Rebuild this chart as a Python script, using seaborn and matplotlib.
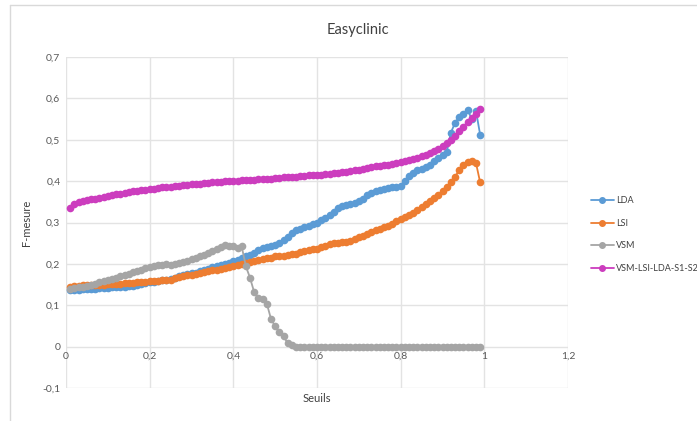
import numpy as np
import pandas as pd
import matplotlib
matplotlib.use("Agg")
import matplotlib.pyplot as plt
from matplotlib.lines import Line2D
import seaborn as sns

# seuils 0,01 .. 0,99
seuils = [round(0.01 * i, 2) for i in range(1, 100)]

lda = [0.138, 0.138, 0.138, 0.139, 0.139, 0.140, 0.140, 0.141, 0.141, 0.142,
       0.143, 0.143, 0.144, 0.145, 0.146, 0.147, 0.150, 0.152, 0.153, 0.155,
       0.156, 0.158, 0.160, 0.162, 0.163, 0.166, 0.170, 0.173, 0.175, 0.177,
       0.179, 0.182, 0.184, 0.188, 0.193, 0.196, 0.198, 0.200, 0.203, 0.206,
       0.210, 0.214, 0.218, 0.222, 0.227, 0.233, 0.238, 0.241, 0.243, 0.246,
       0.250, 0.258, 0.266, 0.275, 0.282, 0.285, 0.288, 0.292, 0.296, 0.300,
       0.306, 0.312, 0.318, 0.326, 0.334, 0.340, 0.342, 0.344, 0.348, 0.352,
       0.358, 0.366, 0.372, 0.376, 0.379, 0.382, 0.384, 0.385, 0.386, 0.388,
       0.400, 0.412, 0.420, 0.426, 0.430, 0.434, 0.438, 0.448, 0.456, 0.462,
       0.470, 0.517, 0.541, 0.555, 0.562, 0.572, 0.550, 0.570, 0.512]

lsi = [0.145, 0.146, 0.147, 0.148, 0.148, 0.149, 0.149, 0.150, 0.150, 0.151,
       0.151, 0.152, 0.152, 0.153, 0.153, 0.154, 0.155, 0.156, 0.157, 0.158,
       0.158, 0.159, 0.160, 0.161, 0.162, 0.165, 0.168, 0.170, 0.172, 0.174,
       0.176, 0.178, 0.180, 0.182, 0.184, 0.186, 0.188, 0.190, 0.193, 0.196,
       0.198, 0.200, 0.203, 0.205, 0.207, 0.209, 0.211, 0.213, 0.215, 0.218,
       0.219, 0.220, 0.221, 0.223, 0.225, 0.228, 0.230, 0.233, 0.235, 0.237,
       0.240, 0.243, 0.247, 0.250, 0.251, 0.252, 0.253, 0.256, 0.260, 0.264,
       0.268, 0.272, 0.277, 0.282, 0.285, 0.288, 0.292, 0.297, 0.303, 0.308,
       0.313, 0.318, 0.324, 0.330, 0.338, 0.345, 0.352, 0.360, 0.367, 0.375,
       0.386, 0.398, 0.410, 0.427, 0.438, 0.446, 0.448, 0.444, 0.397]

vsm = [0.140, 0.142, 0.143, 0.145, 0.147, 0.150, 0.152, 0.155, 0.158, 0.160,
       0.163, 0.166, 0.170, 0.173, 0.176, 0.180, 0.183, 0.186, 0.190, 0.193,
       0.196, 0.197, 0.198, 0.199, 0.198, 0.199, 0.202, 0.205, 0.208, 0.211,
       0.214, 0.218, 0.222, 0.226, 0.230, 0.235, 0.240, 0.245, 0.243, 0.242,
       0.238, 0.242, 0.194, 0.166, 0.131, 0.118, 0.115, 0.104, 0.067, 0.049,
       0.035, 0.025, 0.008, 0.003] + [0.0] * 45

combi = [0.335, 0.345, 0.350, 0.352, 0.354, 0.356, 0.358, 0.360, 0.362, 0.364,
         0.366, 0.368, 0.370, 0.371, 0.373, 0.375, 0.376, 0.378, 0.379, 0.381,
         0.382, 0.384, 0.385, 0.386, 0.387, 0.388, 0.389, 0.390, 0.391, 0.392,
         0.393, 0.394, 0.395, 0.396, 0.397, 0.398, 0.399, 0.400, 0.400, 0.401,
         0.401, 0.402, 0.402, 0.403, 0.403, 0.404, 0.405, 0.405, 0.406, 0.407,
         0.408, 0.409, 0.410, 0.410, 0.411, 0.412, 0.413, 0.414, 0.415, 0.415,
         0.416, 0.417, 0.418, 0.419, 0.420, 0.421, 0.422, 0.424, 0.426, 0.428,
         0.430, 0.432, 0.434, 0.436, 0.437, 0.438, 0.440, 0.442, 0.444, 0.446,
         0.448, 0.451, 0.454, 0.457, 0.460, 0.464, 0.468, 0.472, 0.478, 0.484,
         0.492, 0.500, 0.510, 0.520, 0.532, 0.543, 0.553, 0.562, 0.575]

noms = ["LDA", "LSI", "VSM", "VSM-LSI-LDA-S1-S2-S3"]
couleurs = ["#5B9BD5", "#ED7D31", "#A5A5A5", "#CC3DBE"]

xticks = [0, 0.2, 0.4, 0.6, 0.8, 1.0, 1.2]
xlabels = ["0", "0,2", "0,4", "0,6", "0,8", "1", "1,2"]
yticks = [-0.1, 0, 0.1, 0.2, 0.3, 0.4, 0.5, 0.6, 0.7]
ylabels = ["-0,1", "0", "0,1", "0,2", "0,3", "0,4", "0,5", "0,6", "0,7"]

df = pd.DataFrame({"Seuils": seuils, "LDA": lda, "LSI": lsi, "VSM": vsm,
                   "VSM-LSI-LDA-S1-S2-S3": combi})
df = df.melt(id_vars="Seuils", var_name="methode", value_name="F-mesure")

sns.set_style("white")
plt.rcParams['font.family'] = ['Lato', 'DejaVu Sans']

fig = plt.figure(figsize=(6.97, 4.21), dpi=100)
ax = fig.add_axes([66/697, 1-388/421, (568-66)/697, (388-57)/421])

sns.lineplot(data=df, x="Seuils", y="F-mesure", hue="methode", hue_order=noms,
             palette=couleurs, marker="o", markersize=5.5, markeredgewidth=0,
             linewidth=1.3, ax=ax, legend=False, zorder=3)

ax.set_xlim(0, 1.2)
ax.set_ylim(-0.1, 0.7)
ax.set_xticks(xticks)
ax.set_xticklabels(xlabels)
ax.set_yticks(yticks)
ax.set_yticklabels(ylabels)
ax.grid(True, color="#E3E3E3", linewidth=1)
ax.set_axisbelow(True)
for s in ax.spines.values():
    s.set_visible(False)
ax.spines['bottom'].set_position(('data', 0))
ax.tick_params(length=0, labelsize=7.5, colors="#595959", pad=4)
ax.set_xlabel("Seuils", fontsize=8, color="#404040")
ax.set_ylabel("F-mesure", fontsize=8, color="#404040")
ax.xaxis.set_label_coords(0.5, -0.015)
ax.yaxis.set_label_coords(-0.068, 0.5)
ax.xaxis.label.set_va("top")

fig.text(358/697, 1-30/421, "Easyclinic", ha="center", va="center",
         fontsize=10.5, color="#404040")

handles = [Line2D([0], [0], color=c, marker="o", markersize=4, linewidth=1.3)
           for c in couleurs]
fig.legend(handles, noms, loc="upper left", bbox_to_anchor=(583/697, 1-188/421),
           frameon=False, fontsize=6.5, handlelength=2.5, labelspacing=1.5,
           handletextpad=0.3, labelcolor="#404040")

# cadre du graphique
fig.add_artist(Line2D([10/697, 10/697], [0, 1-5/421], color="#D9D9D9", linewidth=1))
fig.add_artist(Line2D([10/697, 1], [1-5/421, 1-5/421], color="#D9D9D9", linewidth=1))

plt.savefig("out.png", dpi=100)
